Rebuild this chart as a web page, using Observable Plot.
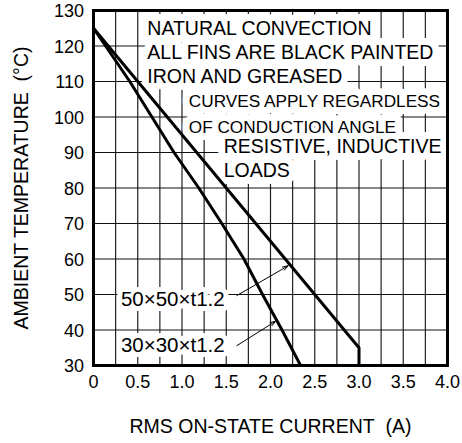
<!DOCTYPE html>
<html><head><meta charset="utf-8">
<script src="https://cdn.jsdelivr.net/npm/d3@7"></script>
<script src="https://cdn.jsdelivr.net/npm/@observablehq/plot@0.6"></script>
<style>body{margin:0;background:#fff}</style>
</head><body><div id="chart"></div>
<script>
// Series: 50x50xt1.2 fin
const current50 = [0, 1.5, 3.0, 3.0];
const temp50 = [125, 80, 35, 30];
// Series: 30x30xt1.2 fin
const current30 = [0, 0.41, 0.91, 1.19, 1.45, 1.70, 1.91, 2.13, 2.34];
const temp30 = [125, 110, 90, 80, 70, 60, 50, 40, 30];

const xTicks = [0, 0.5, 1.0, 1.5, 2.0, 2.5, 3.0, 3.5, 4.0];
const xTickLabels = ["0", "0.5", "1.0", "1.5", "2.0", "2.5", "3.0", "3.5", "4.0"];
const xGrid = [0.25, 0.5, 0.75, 1.0, 1.25, 1.5, 1.75, 2.0, 2.25, 2.5, 2.75, 3.0, 3.25, 3.5, 3.75];
const yTicks = [30, 40, 50, 60, 70, 80, 90, 100, 110, 120, 130];
const yGrid = [40, 50, 60, 70, 80, 90, 100, 110, 120];

const xTitle = "RMS ON-STATE CURRENT\u00a0\u00a0(A)";
const yTitle = "AMBIENT TEMPERATURE\u00a0\u00a0(°C)";

const noteBlock1 = ["NATURAL CONVECTION", "ALL FINS ARE BLACK PAINTED", "IRON AND GREASED"];
const noteBlock2 = ["CURVES APPLY REGARDLESS", "OF CONDUCTION ANGLE"];
const noteBlock3 = ["RESISTIVE, INDUCTIVE", "LOADS"];

const seriesLabels = ["50×50×t1.2", "30×30×t1.2"];
const labelX = [0.31, 0.31];
const labelY = [48.6, 35.6];
const leaderX1 = [1.62, 1.62], leaderY1 = [49.7, 35.6];
const leaderX2 = [2.20, 2.06], leaderY2 = [58.1, 42.5];

const s50 = current50.map((c, i) => ({c, t: temp50[i]}));
const s30 = current30.map((c, i) => ({c, t: temp30[i]}));
const labels = seriesLabels.map((s, i) => ({s, x: labelX[i], y: labelY[i], x1: leaderX1[i], y1: leaderY1[i], x2: leaderX2[i], y2: leaderY2[i]}));

const notes = [
  {t: noteBlock1.join("\n"), x: 0.608, y: 127.9, fs: 19.5, lh: 1.231},
  {t: noteBlock2.join("\n"), x: 1.077, y: 107.8, fs: 17.2, lh: 1.47},
  {t: noteBlock3.join("\n"), x: 1.471, y: 94.4, fs: 19.5, lh: 1.195}
];

const font = "'Liberation Sans', Arial, Helvetica, sans-serif";
const haloStyle = {fill: "white", stroke: "white", strokeLinejoin: "round"};

function noteMarks(style) {
  return notes.map(n => Plot.text([n.t], {x: n.x, y: n.y, text: d => d, textAnchor: "start", lineAnchor: "top", fontSize: n.fs, lineHeight: n.lh, ...style}));
}

const chart = Plot.plot({
  width: 462,
  height: 443,
  marginLeft: 93,
  marginRight: 15,
  marginTop: 10,
  marginBottom: 78,
  style: {fontFamily: font, fontSize: "18px", color: "#000", background: "#fff"},
  x: {domain: [0, 4]},
  y: {domain: [30, 130]},
  marks: [
    Plot.gridX({ticks: xGrid, stroke: "#222", strokeOpacity: 1, strokeWidth: 1.2}),
    Plot.gridY({ticks: yGrid, stroke: "#111", strokeOpacity: 1, strokeWidth: 1.2}),
    // white backgrounds behind annotation text
    ...noteMarks({...haloStyle, strokeWidth: 14}),
    Plot.text(labels, {x: "x", y: "y", text: "s", textAnchor: "start", lineAnchor: "middle", fontSize: 20.5, ...haloStyle, strokeWidth: 10}),
    // annotation text
    ...noteMarks({fill: "#000"}),
    Plot.text(labels, {x: "x", y: "y", text: "s", textAnchor: "start", lineAnchor: "middle", fontSize: 20.5, fill: "#000"}),
    Plot.line(s50, {x: "c", y: "t", stroke: "#000", strokeWidth: 3}),
    Plot.line(s30, {x: "c", y: "t", stroke: "#000", strokeWidth: 3}),
    Plot.arrow(labels, {x1: "x1", y1: "y1", x2: "x2", y2: "y2", stroke: "#000", strokeWidth: 1, headLength: 9, headAngle: 35}),
    Plot.frame({stroke: "#000", strokeWidth: 3}),
    Plot.axisX({ticks: xTicks, tickSize: 0, tickPadding: 10, tickFormat: (d, i) => xTickLabels[i], label: null, fontSize: 18}),
    Plot.axisY({ticks: yTicks, tickSize: 0, tickPadding: 9.5, label: null, fontSize: 18, dy: 1}),
    Plot.text([xTitle], {frameAnchor: "bottom", dy: 61.5, text: d => d, textAnchor: "middle", lineAnchor: "middle", fontSize: 19.5}),
    Plot.text([yTitle], {frameAnchor: "left", dx: -72, rotate: -90, text: d => d, textAnchor: "middle", lineAnchor: "middle", fontSize: 19.5})
  ]
});
document.getElementById("chart").appendChild(chart);
</script>
</body></html>
